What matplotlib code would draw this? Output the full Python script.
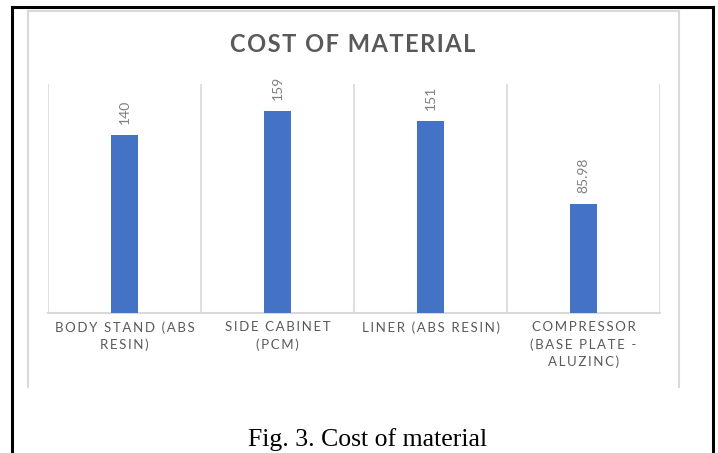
import numpy as np
from matplotlib import pyplot as plt
from matplotlib.lines import Line2D

# donnees du graphique
categories = ["BODY STAND (ABS\nRESIN)", "SIDE CABINET\n(PCM)", "LINER (ABS RESIN)",
              "COMPRESSOR\n(BASE PLATE -\nALUZINC)"]
valeurs = [140, 159, 151, 85.98]
etiquettes = ["140", "159", "151", "85.98"]

BLEU = "#4472C4"
GRIS_TXT = "#595959"
GRIS_LIGNE = "#d9d9d9"
POLICE = ["Lato", "DejaVu Sans"]


def espace(txt, sep="\u200a"):
    # espacement des lettres comme dans excel
    return "\n".join(sep.join(ligne) for ligne in txt.split("\n"))


W, H = 718, 453
fig = plt.figure(figsize=(W / 100, H / 100), dpi=100)

def px(x, y):
    return x / W, 1 - y / H

# cadre noir exterieur
for (x0, y0), (x1, y1) in [((12, 7), (713, 7)), ((12, 7), (12, 470)), ((713, 7), (713, 470))]:
    a, b = px(x0, y0)
    c, d = px(x1, y1)
    fig.add_artist(Line2D([a, c], [b, d], color="black", lw=2.2, transform=fig.transFigure))

# cadre gris du graphique
for (x0, y0), (x1, y1) in [((28, 10.5), (679, 10.5)), ((28, 10.5), (28, 387)), ((679, 10.5), (679, 387))]:
    a, b = px(x0, y0)
    c, d = px(x1, y1)
    fig.add_artist(Line2D([a, c], [b, d], color=GRIS_LIGNE, lw=1.5, transform=fig.transFigure))

ax = fig.add_axes([48 / W, (H - 313) / H, (660 - 48) / W, (313 - 84) / H])
x = np.arange(len(valeurs))
ax.bar(x, valeurs, width=0.183, color=BLEU, zorder=3)
ax.set_xlim(-0.5, len(valeurs) - 0.5)
ax.set_ylim(0, 180)

for xi in np.arange(-0.5, len(valeurs), 1.0):
    ax.axvline(xi, color=GRIS_LIGNE, lw=1.2, zorder=1)

for s in ["top", "right", "left"]:
    ax.spines[s].set_visible(False)
ax.spines["bottom"].set_color(GRIS_LIGNE)
ax.spines["bottom"].set_linewidth(1.5)
ax.set_yticks([])
ax.set_xticks(x)
ax.set_xticklabels([espace(c, "\u2009") for c in categories], family=POLICE, fontsize=9.5,
                   color=GRIS_TXT, linespacing=1.45)
ax.tick_params(axis="x", length=0, pad=6)

for xi, v, lab in zip(x, valeurs, etiquettes):
    ax.annotate(lab, (xi, v), xytext=(0, 8), textcoords="offset points", rotation=90,
                ha="center", va="bottom", fontsize=10, color="#7f7f7f", family=POLICE)

tx, ty = px(353, 44)
fig.text(tx, ty, espace("COST OF MATERIAL", "\u200a"), ha="center", va="center",
         fontsize=17, fontweight="bold", color=GRIS_TXT, family=POLICE)

cx, cy = px(368, 446)
fig.text(cx, cy, "Fig. 3. Cost of material", ha="center", va="baseline",
         fontsize=18.5, color="black", family=["Liberation Serif", "DejaVu Serif"])

fig.savefig("out.png", dpi=100)
